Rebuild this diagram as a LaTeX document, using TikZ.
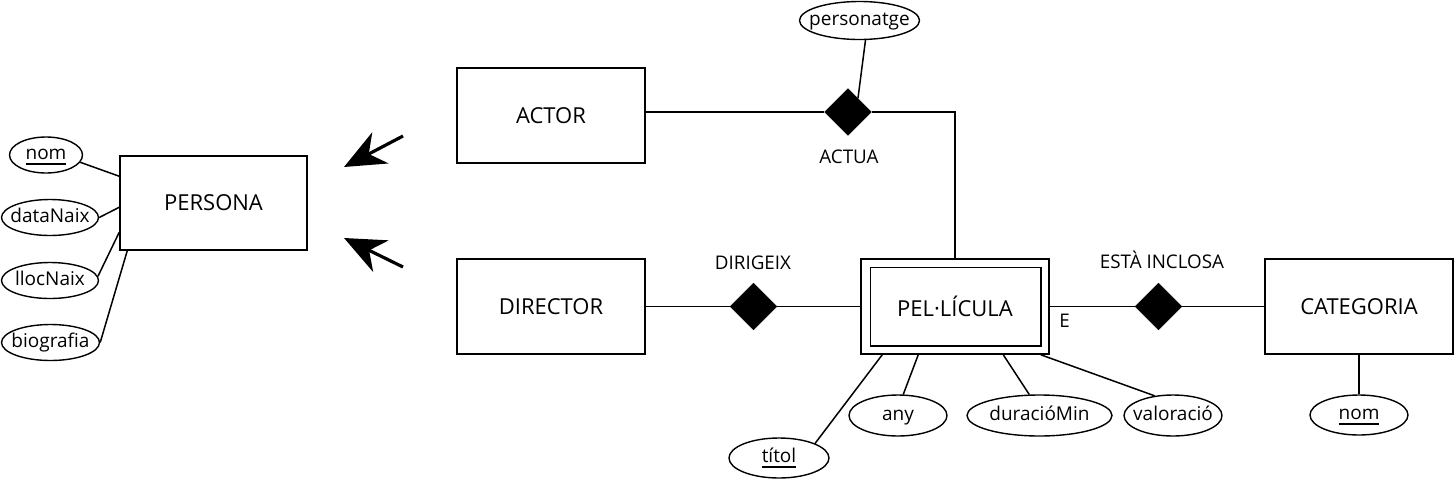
\documentclass[tikz,border=0pt]{standalone}
\usepackage{fontspec}
\setmainfont{Open Sans}
\usetikzlibrary{shapes.geometric,arrows.meta}
\newcommand{\keyul}[1]{\leavevmode\setbox0\hbox{#1}\rlap{\rule[-5pt]{\wd0}{1.6pt}}\box0}
\begin{document}
\begin{tikzpicture}[x=1pt,y=-1pt,
  entity/.style={draw, line width=1.5pt, rectangle, minimum width=188pt, minimum height=95pt, inner sep=0pt, font=\fontsize{22}{26}\selectfont},
  rel/.style={diamond, fill=black, draw=black, minimum width=47pt, minimum height=47pt, inner sep=0pt},
  attr/.style={draw, line width=1.4pt, ellipse, inner sep=0pt, minimum height=36pt, text height=13pt, text depth=4pt, font=\fontsize{19}{22}\selectfont},
  rlabel/.style={font=\fontsize{18.8}{22}\selectfont, inner sep=0pt, anchor=base},
  conn/.style={line width=1.5pt},
  bigarrow/.style={line width=3.2pt, -{Stealth[length=41pt,width=35pt,inset=13pt]}}
]
\useasboundingbox (0,0) rectangle (1454,480);

% entities
\node[entity, minimum width=187pt, minimum height=94pt] (persona) at (213.5,203) {PERSONA};
\node[entity] (actor) at (551,115.5) {ACTOR};
\node[entity] (director) at (551,306.5) {DIRECTOR};
\node[entity] (pel) at (955,306.5) {PEL·LÍCULA};
\draw[line width=1.5pt] ([shift={(10pt,-9pt)}]pel.north west) rectangle ([shift={(-9pt,9pt)}]pel.south east);
\node[entity] (cat) at (1359,306.5) {CATEGORIA};

% relationships
\node[rel] (actua) at (848,112) {};
\node[rel] (dirigeix) at (753.5,306.5) {};
\node[rel] (esta) at (1158.5,306.5) {};

\node[rlabel] (lactua) at (849,163) {ACTUA};
\node[rlabel] (ldir) at (753,269) {DIRIGEIX};
\node[rlabel] (lesta) at (1162,268) {ESTÀ INCLOSA};
\node[rlabel] (le) at (1064.5,327.5) {E};

% attributes
\node[attr, minimum width=73pt] (pnom) at (46,155) {\makebox[0pt]{\keyul{nom}}};
\node[attr, minimum width=97pt] (datanaix) at (50,217.5) {\makebox[0pt]{dataNaix}};
\node[attr, minimum width=97pt] (llocnaix) at (50,280.5) {\makebox[0pt]{llocNaix}};
\node[attr, minimum width=98pt] (biografia) at (50.5,342.5) {\makebox[0pt]{biografia}};
\node[attr, minimum width=120pt, minimum height=38pt] (personatge) at (859.5,20.5) {\makebox[0pt]{personatge}};
\node[attr, minimum width=100pt, minimum height=40pt] (titol) at (779,458) {\makebox[0pt]{\keyul{títol}}};
\node[attr, minimum width=98pt, minimum height=41pt] (any) at (898,415.5) {\makebox[0pt]{any}};
\node[attr, minimum width=145pt, minimum height=41pt] (dur) at (1039.5,415.5) {\makebox[0pt]{duracióMin}};
\node[attr, minimum width=98pt, minimum height=41pt] (val) at (1173,415.5) {\makebox[0pt]{valoració}};
\node[attr, minimum width=98pt, minimum height=40pt] (cnom) at (1359,415) {\makebox[0pt]{\keyul{nom}}};

% connectors
\draw[conn] (pnom.-12) -- ([yshift=-21pt]persona.north west);
\draw[conn] (datanaix.east) -- ([yshift=-52pt]persona.north west);
\draw[conn] (llocnaix.5) -- ([yshift=-77pt]persona.north west);
\draw[conn] (biografia.east) -- ([xshift=8pt]persona.south west);

\draw[conn] (actua.west -| actor.east) -- (actua.west);
\draw[conn] (actua.east) -| (pel.north);
\draw[conn] (personatge.-73) -- (actua.54);
\draw[conn] (director.east) -- (dirigeix.west);
\draw[conn] (dirigeix.east) -- (pel.west);
\draw[conn] (pel.east) -- (esta.west);
\draw[conn] (esta.east) -- (cat.west);

\draw[conn] (titol.22) -- ([xshift=22pt]pel.south west);
\draw[conn] (any.76) -- ([xshift=58pt]pel.south west);
\draw[conn] (dur.116) -- ([xshift=143pt]pel.south west);
\draw[conn] (val.133) -- ([xshift=-9pt]pel.south east);
\draw[conn] (cat.south) -- (cnom.north);

% inheritance arrows
\coordinate (a1s) at (403,136);
\coordinate (a1t) at (344,167);
\coordinate (a2s) at (403,267);
\coordinate (a2t) at (344,238);
\draw[bigarrow] (a1s) -- (a1t);
\draw[bigarrow] (a2s) -- (a2t);
\end{tikzpicture}
\end{document}
